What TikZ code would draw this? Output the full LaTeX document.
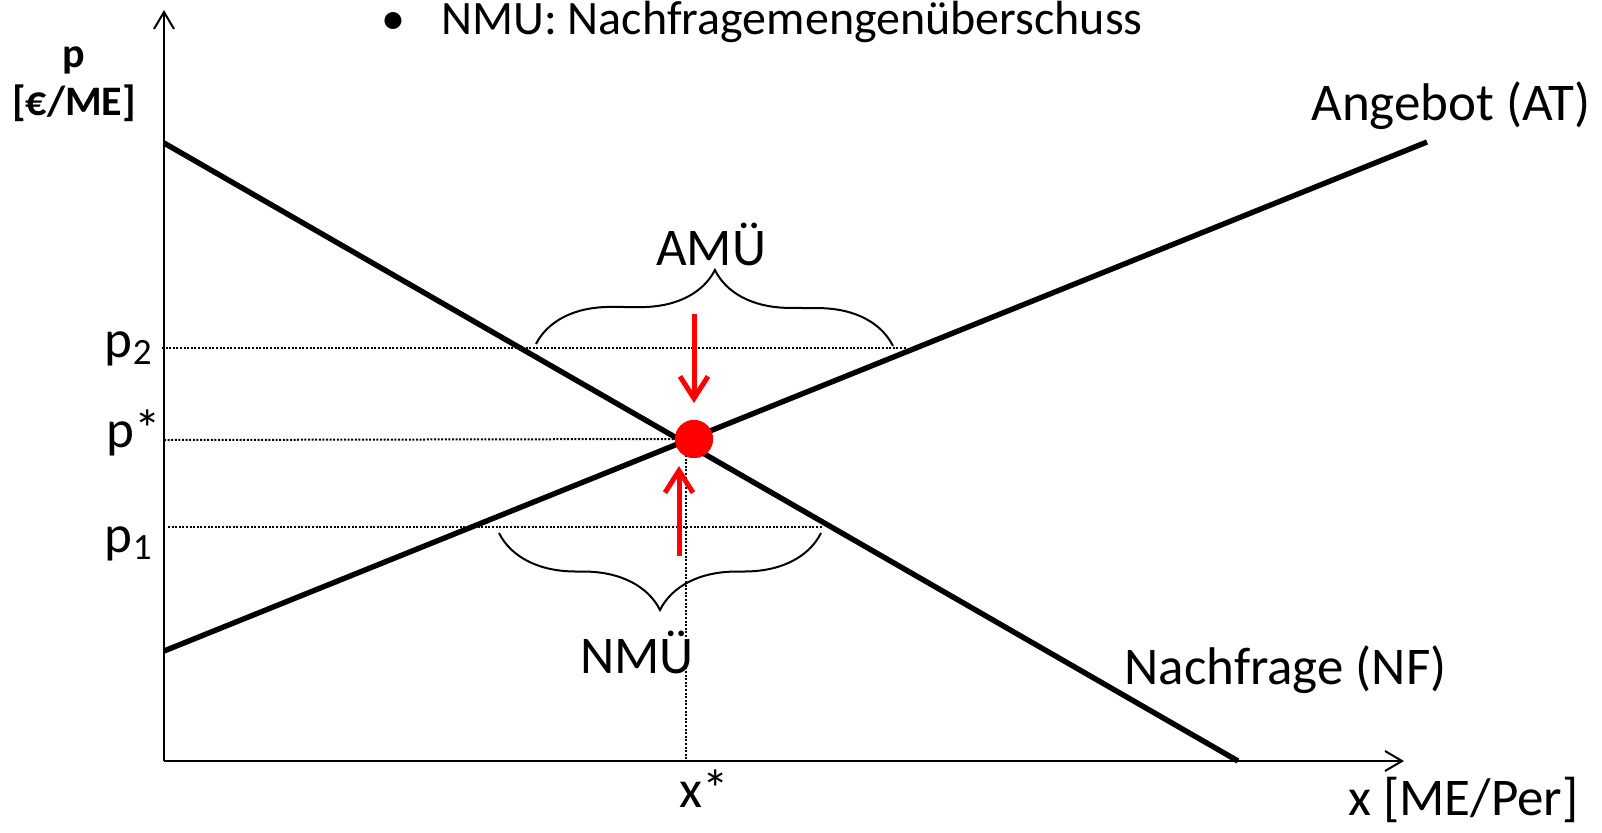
\documentclass[tikz,border=0pt]{standalone}
\usepackage{fontspec}
\setmainfont{Carlito}
\usetikzlibrary{arrows.meta,positioning,calc,decorations.pathreplacing}

\begin{document}
\begin{tikzpicture}[x=0.5pt,y=-0.5pt,
  lbl/.style={font=\fontsize{26.5}{31}\selectfont,inner sep=0pt},
  unitlbl/.style={font=\fontsize{21}{25}\selectfont\bfseries,inner sep=0pt},
  titlelbl/.style={font=\fontsize{24}{28}\selectfont,inner sep=0pt},
  axisline/.style={line width=1pt,-{Straight Barb[length=8.5pt,width=10pt]}},
  mktline/.style={line width=2.7pt},
  guideline/.style={line width=1pt,dash pattern=on 1pt off 0.8pt},
  brc/.style={line width=1pt,decorate,decoration={brace,amplitude=#1}},
  push/.style={line width=2.5pt,red,-{Straight Barb[length=11pt,width=14pt]}},
  eqdot/.style={circle,fill=red,inner sep=0pt,minimum size=19pt}]
\useasboundingbox (0,0) rectangle (1602,832);
\coordinate (o) at (164,761);
\coordinate (ytop) at (164,10);
\coordinate (xend) at (1404,761);
\coordinate (nfA) at (164,143);
\coordinate (nfB) at (1238,761);
\coordinate (atA) at (164,651);
\coordinate (atB) at (1427,142);
\coordinate (p2l) at (162,348);
\coordinate (p2r) at (907,348);
\coordinate (psl) at (164,440);
\coordinate (p1l) at (168,527);
\coordinate (p1r) at (822,527);
\coordinate (xst) at (686,455);
\coordinate (xsb) at (686,761);
\coordinate (amuS) at (694,314);
\coordinate (amuE) at (694,403);
\coordinate (nmuS) at (679,556);
\coordinate (nmuE) at (679,466);
\node[eqdot] (eq) at (694,439) {};
\draw[guideline] (p2l) -- (p2r);
\draw[guideline] (psl) -- (eq.west);
\draw[guideline] (p1l) -- (p1r);
\draw[guideline] (xst) -- (xsb);
\draw[axisline] (o) -- (ytop);
\draw[axisline] (o) -- (xend);
\draw[mktline] (nfA) -- (nfB);
\draw[mktline] (atA) -- (atB);
\node[eqdot] at (eq) {};
\draw[brc=37.5pt] (536,344) -- (893,346);
\draw[brc=38.5pt] (821,533) -- (499,533);
\draw[push] (amuS) -- (amuE);
\draw[push] (nmuS) -- (nmuE);
\node[lbl,anchor=base] (amu) at (711,265) {AMÜ};
\node[lbl,anchor=base] (nmu) at (637,673) {NMÜ};
\node[lbl,anchor=base east] (p2) at (153,357) {p\textsubscript{2}};
\node[lbl,anchor=base east] (pstar) at (161,447) {p*};
\node[lbl,anchor=base east] (p1) at (153,552) {p\textsubscript{1}};
\node[lbl,anchor=base] (xstar) at (704,807) {x*};
\node[lbl,anchor=base east] (xlbl) at (1579,815) {x [ME/Per]};
\node[lbl,anchor=base west] (at) at (1311,120) {Angebot (AT)};
\node[lbl,anchor=base west] (nf) at (1124,684) {Nachfrage (NF)};
\node[unitlbl,anchor=base] (plbl) at (74,67) {p};
\node[unitlbl,anchor=base] (punit) at (74,115) {[€/ME]};
\node[titlelbl,anchor=base west] (title) at (381,34) {\makebox[30pt][l]{\textbullet}NMU: Nachfragemengenüberschuss};
\end{tikzpicture}
\end{document}
